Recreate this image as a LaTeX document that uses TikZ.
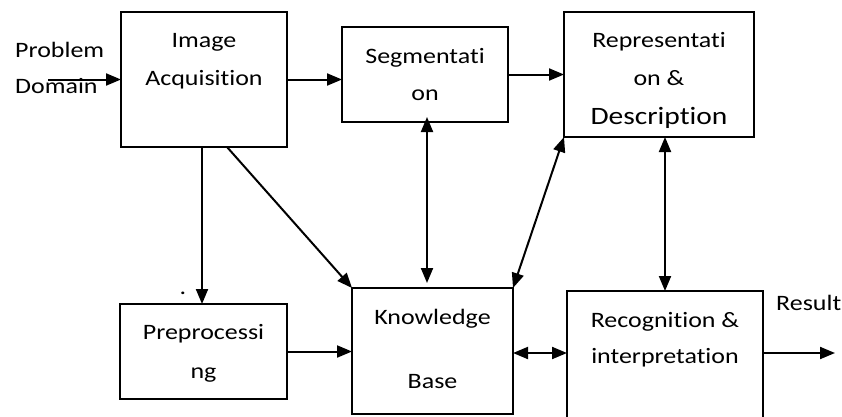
\documentclass[tikz,border=0pt]{standalone}
\usepackage{fontspec}
\setmainfont{Carlito}[FakeStretch=1.18,Ligatures=NoCommon]
\usetikzlibrary{arrows.meta,calc}
\begin{document}
\begin{tikzpicture}[x=1pt,y=-1pt,
  blk/.style={draw,line width=1.6pt,minimum width=#1,inner sep=0pt,outer sep=0pt},
  txt/.style={inner sep=0pt,anchor=base,font=\fontsize{22}{26}\selectfont},
  txtl/.style={txt,anchor=base west},
  arr/.style={line width=2pt,-{Triangle[length=15pt,width=12pt]}},
  darr/.style={line width=2pt,{Triangle[length=15pt,width=12pt]}-{Triangle[length=15pt,width=12pt]}}]
\useasboundingbox (0,0) rectangle (842,416);
\clip (0,0) rectangle (842,416);
% boxes
\node[blk=166pt,minimum height=135pt] (ia) at (204,79.5) {};
\node[blk=166pt,minimum height=95pt] (seg) at (425,74.5) {};
\node[blk=190pt,minimum height=125pt] (rep) at (659,74.5) {};
\node[blk=167pt,minimum height=95pt] (prep) at (203.5,351.5) {};
\node[blk=161pt,minimum height=126pt] (kb) at (432.5,351) {};
\node[blk=196pt,minimum height=139pt] (rec) at (665,360.5) {};
% texts
\node[txtl] (prob) at (15,57) {Problem};
\node[txtl] (dom) at (15,93) {Domain};
\node[txt] (ia1) at (204,47) {Image};
\node[txt] (ia2) at (204,85) {Acquisition};
\node[txt] (seg1) at (425,63) {Segmentati};
\node[txt] (seg2) at (425,100) {on};
\node[txt] (rep1) at (659,47) {Representati};
\node[txt] (rep2) at (659,85) {on \&};
\node[txt,font=\fontsize{25}{30}\selectfont] (rep3) at (659,124) {Description};
\node[txt] (prep1) at (203.5,339) {Preprocessi};
\node[txt] (prep2) at (203.5,378) {ng};
\node[txt] (kb1) at (432.5,324) {Knowledge};
\node[txt] (kb2) at (432.5,388) {Base};
\node[txt] (rec1) at (665,327) {Recognition \&};
\node[txt] (rec2) at (665,363) {interpretation};
\node[txtl] (res) at (776,310) {Result};
\node[txt] (dot) at (183,294) {.};
% connectors
\coordinate (pd) at (48,79.5);
\coordinate (out) at (835,353);
\coordinate (kbr) at ($(kb.east)+(0,2)$);
\coordinate (segb) at ($(seg.south)+(2,-5)$);
\coordinate (kbt) at ($(kb.north)+(-5.5,-5)$);
\coordinate (iab) at ($(ia.south)+(23,0)$);
\draw[arr] (pd) -- (pd -| ia.west);
\draw[arr] (ia.east) -- (ia.east -| seg.west);
\draw[arr] (seg.east) -- (seg.east -| rep.west);
\draw[arr] (ia.south -| 202,0) -- (prep.north -| 202,0);
\draw[arr] (iab) -- (kb.north west);
\draw[arr] (prep.east) -- (prep.east -| kb.west);
\draw[darr] (segb) -- (kbt);
\draw[darr] (kb.north east) -- (rep.south west);
\draw[darr] (rep.south -| rec.north) -- (rec.north);
\draw[darr] (kbr) -- (kbr -| rec.west);
\draw[arr] (rec.east |- out) -- (out);
\end{tikzpicture}
\end{document}
